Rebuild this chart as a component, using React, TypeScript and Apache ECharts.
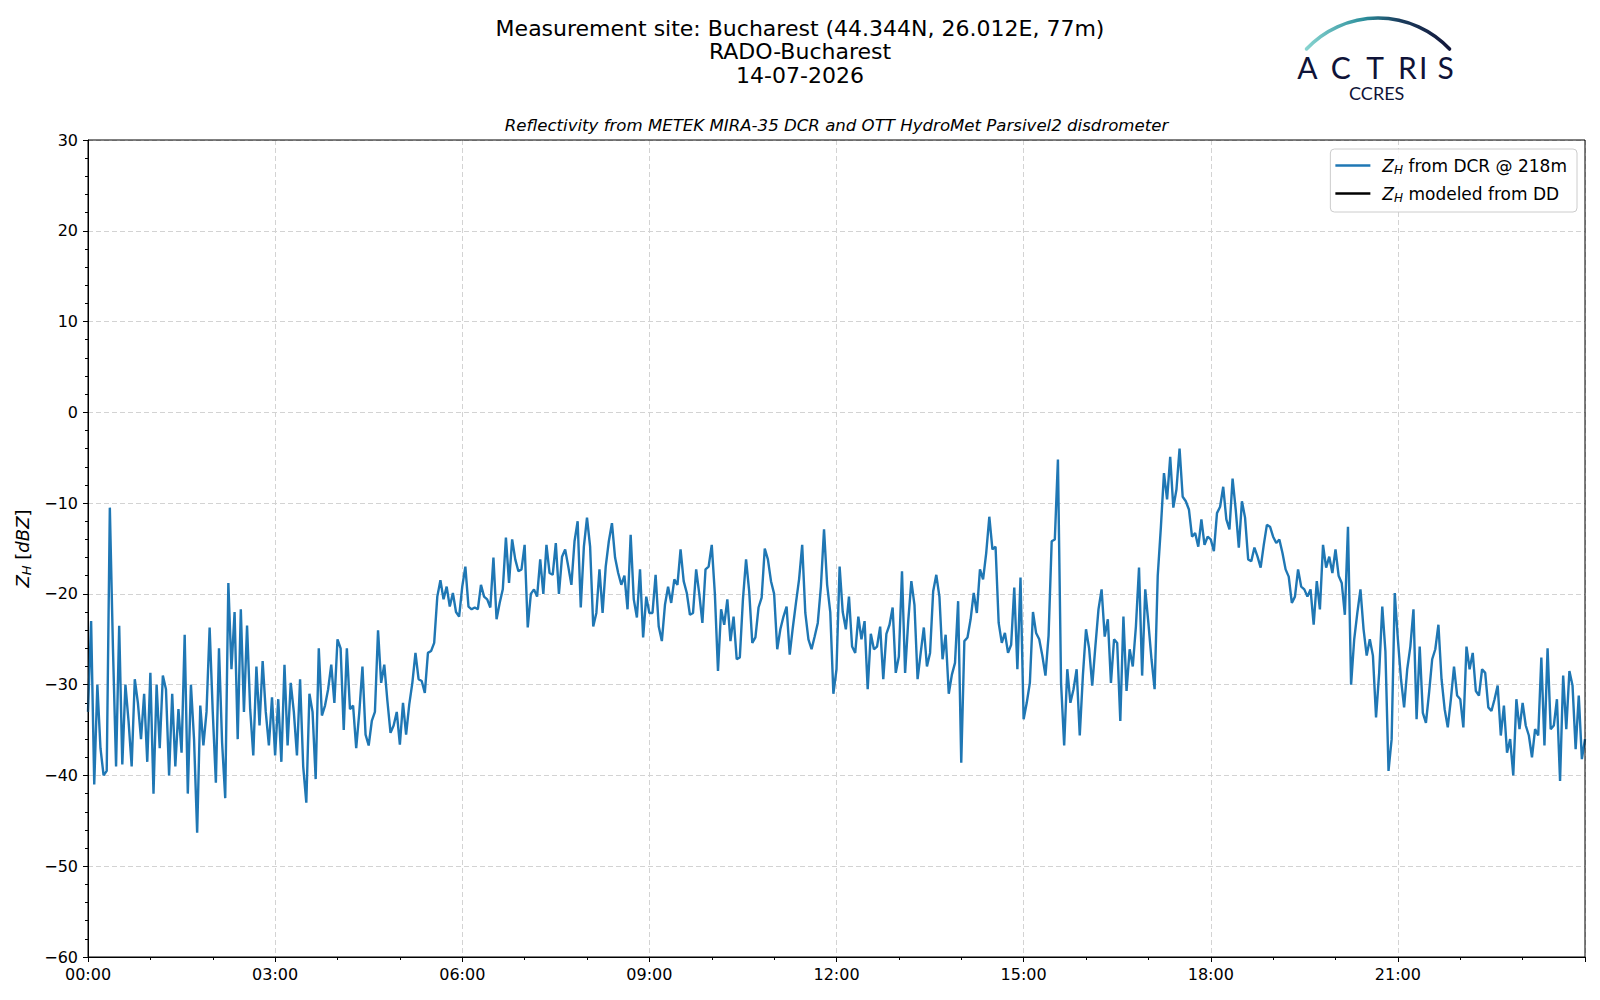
import React, { useEffect, useRef } from "react";
import * as echarts from "echarts";

// ---- data: Z_H from DCR @ 218m, 3-minute steps (hours) ----
const STEP_H = 0.05;
const zh00to04 = [
  -33, -23, -41, -30, -37, -40, -39.5, -10.5, -26, -39,
  -23.5, -38.8, -30, -34, -39, -29.4, -32, -36, -31, -38.5,
  -28.7, -42, -30, -37, -29, -30.5, -40, -31, -39, -32.7,
  -37.5, -24.5, -42, -30, -36, -46.3, -32.3, -36.7, -33, -23.7,
  -33, -40.8, -26, -36.4, -42.5, -18.8, -28.3, -22, -36, -21.7,
  -33, -23.5, -32.7, -37.8, -28, -34.5, -27.4, -33, -36.7, -31.4,
  -37.8, -31.6, -38.5, -27.8, -36.7, -29.8, -33, -37.8, -29.4, -39,
  -43, -31, -33, -40.4, -26, -33.4, -32.3, -30.5, -27.8, -32,
];
const zh04to08 = [
  -25, -26, -35, -26, -32.7, -32.3, -37, -33, -28, -35.5,
  -36.7, -34, -33, -24, -29.8, -27.8, -31.8, -35.3, -34.5, -33,
  -36.6, -32, -35.5, -32.2, -29.8, -26.5, -29.4, -29.6, -30.9, -26.5,
  -26.3, -25.4, -20.3, -18.5, -20.6, -19.2, -21.4, -19.9, -22, -22.5,
  -19.2, -17, -21.4, -21.7, -21.5, -21.7, -19, -20.3, -20.6, -21.5,
  -16, -22.8, -21, -19.5, -13.8, -18.8, -14, -16.2, -17.5, -17.3,
  -14.6, -23.7, -20, -19.5, -20.3, -16.2, -20, -14.6, -17.7, -17.9,
  -14.4, -20, -15.9, -15.1, -17, -19, -14.2, -12, -21.5, -14.8,
];
const zh08to12 = [
  -11.6, -14.8, -23.6, -22.1, -17.3, -22.1, -17, -14.2, -12.2, -16,
  -17.7, -19, -18, -21.7, -13.5, -20.6, -22.6, -17.3, -24.8, -20.3,
  -22.1, -22.1, -17.9, -23.6, -25.2, -21.2, -19.2, -21, -18.4, -19,
  -15.1, -18.6, -19.9, -22.3, -22.1, -17.3, -20, -23.2, -17.3, -17,
  -14.6, -20, -28.5, -21.7, -23.4, -20.6, -25.2, -22.5, -27.2, -27,
  -20.6, -16.2, -19.7, -25.4, -24.8, -21.5, -20.4, -15, -16.2, -18.6,
  -20, -26.1, -23.9, -22.5, -21.4, -26.7, -23.7, -21, -18.4, -14.6,
  -22.1, -25, -26.1, -24.7, -23.2, -19.2, -12.9, -19, -22, -31,
];
const zh12to16 = [
  -28.3, -17, -22, -23.9, -20.3, -25.8, -26.5, -22.5, -25, -23,
  -30.5, -24.4, -26.1, -25.8, -23.6, -29.4, -24.4, -23.4, -21.5, -28.7,
  -26.9, -17.5, -28.7, -23, -18.6, -21.2, -29.4, -26.5, -23.7, -28,
  -26.5, -19.7, -17.9, -20.3, -27.2, -24.5, -31, -28.9, -27.6, -20.8,
  -38.6, -25.2, -24.8, -22.8, -19.9, -22.1, -17.3, -18.4, -15.5, -11.5,
  -15.1, -14.8, -23.2, -25.4, -24.3, -26.5, -25.6, -19.3, -28.3, -18.2,
  -33.8, -32, -29.8, -22, -24.3, -25, -26.8, -29, -24.6, -14.2,
  -14, -5.2, -29.8, -36.7, -28.3, -32, -30.5, -28.3, -35.6, -29,
];
const zh16to20 = [
  -23.9, -26, -30.1, -25.8, -21.7, -19.5, -24.7, -22.8, -29.8, -25,
  -25.4, -34, -22.5, -30.7, -26.1, -28, -23.6, -17.1, -29, -19.5,
  -23.2, -27.2, -30.5, -18, -12.7, -6.7, -9.6, -4.9, -10.5, -8.5,
  -4, -9.3, -9.8, -10.7, -13.7, -13.3, -14.8, -11.8, -14.6, -13.7,
  -14, -15.3, -11.1, -10.4, -8.2, -11.8, -12.9, -7.3, -10.7, -14.9,
  -9.8, -11.6, -16.2, -16.4, -14.9, -15.9, -17.1, -14.6, -12.4, -12.6,
  -13.7, -14.4, -14, -15.5, -17.3, -18.1, -21, -20.3, -17.3, -19.2,
  -19.5, -20.3, -19.5, -23.4, -18.6, -21.7, -14.6, -17.1, -15.9, -17.7,
];
const zh20to24 = [
  -15.1, -18, -18.8, -22.3, -12.6, -30, -25, -22.1, -19.5, -23.9,
  -26.8, -25, -26.8, -33.6, -28.7, -21.4, -26.3, -39.5, -36, -19.9,
  -25, -29.4, -32.5, -28.3, -25.8, -21.7, -33.8, -25.8, -33.1, -34.2,
  -30.9, -27.2, -26.1, -23.4, -29.4, -32.7, -34.7, -31.6, -28, -31.2,
  -31.6, -34.7, -25.8, -28.3, -26.5, -30.7, -31.2, -28.3, -28.7, -32.5,
  -32.9, -31.6, -30.1, -35.6, -32.3, -37.5, -36, -40, -31.6, -34.9,
  -32, -34.5, -35.6, -38, -34.9, -35.6, -27, -36.7, -26, -34.9,
  -34.5, -31.6, -40.6, -29, -34.9, -28.5, -30.1, -37.1, -31.2, -38.2, -36,
];
const segmentStartsH = [0, 4, 8, 12, 16, 20];
const segments = [zh00to04, zh04to08, zh08to12, zh12to16, zh16to20, zh20to24];

const DCR_NAME = "Z_H from DCR @ 218m";
const DD_NAME = "Z_H modeled from DD";
const titleLines = [
  "Measurement site: Bucharest (44.344N, 26.012E, 77m)",
  "RADO-Bucharest",
  "14-07-2026",
];
const subTitle = "Reflectivity from METEK MIRA-35 DCR and OTT HydroMet Parsivel2 disdrometer";
const logoLetters = ["A", "C", "T", "R", "I", "S"];
const logoLetterX = [1307.3, 1340.7, 1375, 1407.3, 1423.3, 1445.7];

const FONT = "DejaVu Sans";
const GRID = { left: 88, top: 140, width: 1497, height: 817 };

export default function App() {
  const ref = useRef<HTMLDivElement>(null);
  useEffect(() => {
    document.body.style.margin = "0";
    const chart = echarts.init(ref.current!, null, { renderer: "svg" });
    const dcrData: number[][] = [];
    segments.forEach((seg, i) => {
      seg.forEach((v, k) => dcrData.push([segmentStartsH[i] + k * STEP_H, v]));
    });
    const mkRich = (fs: number, sfs: number, lh: number) => ({
      i: { fontFamily: FONT, fontSize: fs, fontStyle: "italic", color: "#000", lineHeight: lh },
      s: { fontFamily: FONT, fontSize: sfs, fontStyle: "italic", color: "#000", lineHeight: sfs, verticalAlign: "bottom" },
      n: { fontFamily: FONT, fontSize: fs, color: "#000", lineHeight: lh },
      p: { width: 7, lineHeight: lh },
    });
    const graphic: any[] = [];
    titleLines.forEach((t, i) => {
      graphic.push({
        type: "text",
        x: 800,
        y: 28.4 + i * 23.3,
        style: { text: t, fontFamily: FONT, fontSize: 22, fill: "#000", textAlign: "center", textVerticalAlign: "middle" },
      });
    });
    graphic.push({
      type: "text",
      x: 836.5,
      y: 125.8,
      style: { text: subTitle, fontFamily: FONT, fontSize: 16.6, fontStyle: "italic", fill: "#000", textAlign: "center", textVerticalAlign: "middle" },
    });
    // plot frame (all four spines)
    graphic.push({
      type: "rect",
      z: 100,
      silent: true,
      shape: { x: GRID.left, y: GRID.top, width: GRID.width, height: GRID.height },
      style: { fill: null, stroke: "#000", lineWidth: 1 },
    });
    // logo
    graphic.push({
      type: "arc",
      shape: { cx: 1378, cy: 116, r: 98, startAngle: -2.389, endAngle: -0.752, clockwise: true },
      style: {
        fill: null,
        lineWidth: 3.5,
        lineCap: "round",
        stroke: new echarts.graphic.LinearGradient(0, 0, 1, 0, [
          { offset: 0, color: "#86d3cf" },
          { offset: 0.4, color: "#2c8f9c" },
          { offset: 0.65, color: "#1b3d5e" },
          { offset: 1, color: "#12163a" },
        ]),
      },
    });
    graphic.push({
      type: "line",
      shape: { x1: 1423.3, y1: 1, x2: 1423.3, y2: 58 },
      style: {
        lineWidth: 2.2,
        stroke: new echarts.graphic.LinearGradient(0, 0, 0, 1, [
          { offset: 0, color: "rgba(18,22,58,0.1)" },
          { offset: 0.35, color: "#12163a" },
          { offset: 1, color: "#12163a" },
        ]),
      },
    });
    logoLetters.forEach((l, i) => {
      graphic.push({
        type: "text",
        x: logoLetterX[i],
        y: 67,
        style: { text: l, fontFamily: "Lato", fontSize: 30, lineHeight: 22, fill: "#0f1338", textAlign: "center", textVerticalAlign: "middle" },
      });
    });
    graphic.push({
      type: "text",
      x: 1376.7,
      y: 93,
      style: { text: "CCRES", fontFamily: "Lato", fontSize: 18, lineHeight: 14, fill: "#0f1338", textAlign: "center", textVerticalAlign: "middle" },
    });

    const minus = (v: number) => (v < 0 ? "\u2212" + Math.abs(v) : String(v));
    const option: any = {
      animation: false,
      backgroundColor: "#ffffff",
      grid: { ...GRID, show: false },
      xAxis: {
        type: "value",
        min: 0,
        max: 24,
        interval: 3,
        axisLine: { show: true, onZero: false, lineStyle: { color: "#000", width: 1 } },
        axisTick: { show: true, length: 5, lineStyle: { color: "#000" } },
        minorTick: { show: true, splitNumber: 3, length: 3, lineStyle: { color: "#000" } },
        axisLabel: {
          fontFamily: FONT,
          fontSize: 16,
          color: "#000",
          margin: 9,
          showMaxLabel: false,
          formatter: (v: number) => String(v).padStart(2, "0") + ":00",
        },
        splitLine: { show: true, lineStyle: { color: "#d3d3d3", type: [5, 3], width: 1 } },
      },
      yAxis: {
        type: "value",
        min: -60,
        max: 30,
        interval: 10,
        name: "{i|Z}{s|H}{n| [}{i|dBZ}{n|]}",
        nameLocation: "middle",
        nameGap: 54,
        nameRotate: 90,
        nameTextStyle: { fontFamily: FONT, fontSize: 18, color: "#000", rich: mkRich(18, 13, 22) },
        axisLine: { show: true, onZero: false, lineStyle: { color: "#000", width: 1 } },
        axisTick: { show: true, length: 5, lineStyle: { color: "#000" } },
        minorTick: { show: true, splitNumber: 5, length: 3, lineStyle: { color: "#000" } },
        axisLabel: { fontFamily: FONT, fontSize: 16, color: "#000", margin: 10, formatter: minus },
        splitLine: { show: true, lineStyle: { color: "#d3d3d3", type: [5, 3], width: 1 } },
      },
      legend: {
        data: [
          { name: DCR_NAME, icon: "rect" },
          { name: DD_NAME, icon: "rect" },
        ],
        orient: "vertical",
        right: 23,
        top: 149,
        itemWidth: 35,
        itemHeight: 2.5,
        itemGap: 9,
        padding: [8, 10, 8, 5],
        borderColor: "#cccccc",
        borderWidth: 1,
        borderRadius: 4,
        backgroundColor: "rgba(255,255,255,0.85)",
        formatter: (name: string) =>
          name === DCR_NAME ? "{p|}{i|Z}{s|H}{n| from DCR @ 218m}" : "{p|}{i|Z}{s|H}{n| modeled from DD}",
        textStyle: { fontFamily: FONT, fontSize: 17, color: "#000", rich: mkRich(17, 12, 21) },
      },
      series: [
        {
          name: DCR_NAME,
          type: "line",
          data: dcrData,
          showSymbol: false,
          symbol: "none",
          color: "#1f77b4",
          lineStyle: { color: "#1f77b4", width: 2.4 },
          z: 3,
        },
        {
          name: DD_NAME,
          type: "line",
          data: [],
          showSymbol: false,
          symbol: "none",
          color: "#000000",
          lineStyle: { color: "#000000", width: 2 },
        },
      ],
      graphic,
    };
    chart.setOption(option);
    return () => chart.dispose();
  }, []);
  return <div ref={ref} style={{ width: 1600, height: 1000 }} />;
}
